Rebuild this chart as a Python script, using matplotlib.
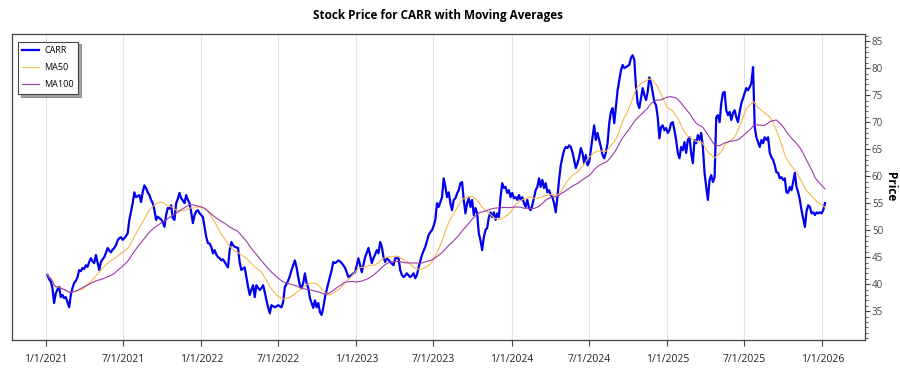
import pandas as pd
import matplotlib.pyplot as plt
from matplotlib.ticker import MultipleLocator

plt.rcParams['font.family'] = ['Open Sans', 'DejaVu Sans']

# CARR closing prices (about every 4 calendar days)
prices = [
    # Jan 2021 - Mar 2022
    41.7, 40.9, 40.5, 39.3, 36.5, 38.3, 39.0, 39.5, 37.6, 38.0,
    37.4, 37.6, 36.7, 35.7, 38.0, 39.3, 40.2, 40.6, 41.3, 42.6,
    42.4, 43.0, 42.8, 43.5, 43.2, 44.1, 44.8, 44.2, 43.9, 45.4,
    44.0, 42.6, 44.1, 44.6, 45.0, 45.8, 46.7, 46.2, 45.9, 46.4,
    46.7, 47.2, 48.1, 48.5, 48.7, 48.2, 48.5, 48.9, 49.4, 51.9,
    53.5, 55.0, 57.0, 56.1, 56.3, 56.5, 55.2, 57.0, 58.3, 57.8,
    57.0, 56.5, 55.6, 55.0, 53.7, 51.9, 52.5, 52.2, 52.0, 51.5,
    50.6, 52.8, 54.1, 54.0, 54.6, 52.2, 51.9, 55.0, 55.8, 56.9,
    55.9, 55.5, 55.0, 56.5, 55.6, 55.0, 53.3, 51.3, 52.8, 53.5,
    53.7, 53.1, 52.8, 52.4, 50.6, 48.7, 47.6, 47.5, 46.9, 45.7,
    46.3, 45.5, 45.0, 44.8, 44.4, 44.6, 44.1, 43.6, 43.1, 46.3,
    47.8, 47.2, 46.9, 46.8, 46.7,
    # Apr 2022 - Jun 2023
    44.0, 42.6, 42.9, 43.1, 41.3, 39.5, 38.0, 39.0, 39.8, 37.6,
    39.8, 39.3, 38.9, 39.3, 39.8, 38.5, 37.0, 35.7, 34.6, 36.1,
    35.9, 35.7, 35.9, 36.1, 35.9, 35.7, 36.7, 39.5, 40.0, 40.7,
    41.5, 42.6, 43.5, 44.4, 43.1, 41.3, 39.8, 39.3, 40.2, 42.0,
    40.2, 39.3, 37.4, 36.5, 35.6, 37.0, 35.7, 36.5, 34.8, 34.3,
    35.7, 37.6, 38.9, 40.2, 41.4, 42.6, 44.1, 43.9, 44.1, 44.4,
    44.2, 43.9, 43.5, 43.0, 42.2, 41.3, 41.5, 41.7, 42.0, 42.2,
    43.5, 44.8, 43.5, 42.2, 43.6, 45.0, 45.8, 46.7, 45.4, 43.9,
    44.8, 45.5, 46.3, 45.7, 47.8, 46.9, 45.0, 44.1, 44.8, 44.5,
    44.1, 43.8, 43.5, 44.8, 44.8, 44.8, 42.6, 41.7, 41.3, 41.6,
    42.0, 41.6, 41.3, 41.6, 42.0, 41.1, 41.7, 43.1, 44.3, 45.4,
    46.2, 46.9, 48.0, 49.1, 49.6, 50.0,
    # Jun 2023 - Sep 2024
    50.8, 51.9, 55.0, 54.3, 55.2, 56.1, 59.6, 58.0, 56.1, 57.0,
    55.0, 53.7, 55.6, 55.9, 56.8, 57.4, 58.7, 58.9, 55.6, 53.1,
    55.0, 55.9, 54.3, 55.6, 52.8, 54.1, 53.1, 49.4, 48.1, 46.3,
    48.7, 50.0, 50.4, 52.4, 53.3, 52.4, 53.3, 51.9, 53.1, 52.4,
    56.1, 58.7, 57.8, 58.0, 56.9, 57.4, 56.1, 56.9, 55.9, 56.1,
    55.6, 56.5, 55.6, 56.1, 55.0, 54.3, 55.6, 54.1, 53.7, 54.6,
    56.0, 57.4, 58.0, 59.6, 58.0, 59.3, 57.8, 58.7, 57.0, 57.4,
    56.5, 56.1, 55.0, 53.3, 56.1, 59.3, 62.0, 63.5, 64.8, 65.4,
    65.2, 65.7, 65.4, 64.4, 63.0, 61.5, 62.4, 63.5, 65.2, 64.3,
    62.4, 63.9, 62.0, 62.6, 64.8, 67.2, 69.4, 66.7, 68.0, 66.7,
    65.4, 63.9, 63.3, 64.4, 66.1, 69.8, 71.9, 72.6, 69.8, 72.8,
    75.9, 77.8, 79.6, 80.6, 80.0, 80.2, 80.4, 80.6,
    # Sep 2024 - Jan 2026
    81.9, 82.4, 81.5, 76.5, 73.5, 72.6, 74.4, 76.3, 75.0, 74.1,
    75.6, 78.3, 77.2, 75.4, 73.7, 73.1, 70.9, 67.0, 69.1, 69.4,
    68.5, 68.9, 68.0, 68.5, 69.8, 70.0, 68.5, 66.7, 64.3, 63.3,
    65.4, 64.8, 66.3, 64.3, 66.7, 67.2, 64.3, 62.4, 66.7, 66.1,
    67.6, 66.7, 68.0, 65.4, 60.6, 58.0, 55.6, 59.3, 60.2, 58.9,
    59.8, 70.9, 71.3, 70.0, 73.5, 75.4, 75.6, 72.2, 71.3, 71.9,
    70.4, 71.7, 72.2, 70.9, 70.0, 71.9, 73.5, 74.4, 75.4, 76.3,
    75.9, 76.5, 77.2, 80.2, 69.1, 67.2, 66.3, 65.4, 66.7, 66.1,
    67.2, 66.7, 67.2, 64.3, 63.5, 63.0, 62.0, 60.7, 60.6, 59.6,
    59.8, 59.3, 59.6, 57.0, 56.9, 58.0, 57.4, 58.9, 60.6, 58.0,
    57.0, 55.6, 53.7, 52.2, 50.6, 53.5, 54.6, 54.3, 53.1, 53.3,
    52.8, 53.3, 53.1, 53.3, 53.1, 53.7, 55.0,
]
first_day = "2021-01-04"
last_day = "2026-01-07"

tick_dates = ["2021-01-01", "2021-07-01", "2022-01-01", "2022-07-01",
              "2023-01-01", "2023-07-01", "2024-01-01", "2024-07-01",
              "2025-01-01", "2025-07-01", "2026-01-01"]
tick_labels = ["1/1/2021", "7/1/2021", "1/1/2022", "7/1/2022", "1/1/2023",
               "7/1/2023", "1/1/2024", "7/1/2024", "1/1/2025", "7/1/2025",
               "1/1/2026"]
y_ticks = [35, 40, 45, 50, 55, 60, 65, 70, 75, 80, 85]

dates = pd.date_range(first_day, last_day, periods=len(prices))
close = pd.Series(prices, index=dates)
# 50 / 100 trading days as calendar windows
ma50 = close.rolling("72D").mean()
ma100 = close.rolling("145D").mean()

fig = plt.figure(figsize=(9, 3.75), dpi=100)
ax = fig.add_axes([0.013, 0.094, 0.948, 0.815])

ax.plot(close.index, close.values, color="#0000ee", lw=1.6, label="CARR", zorder=3)
ax.plot(ma50.index, ma50.values, color="#f7b84f", lw=0.8, label="MA50", zorder=4)
ax.plot(ma100.index, ma100.values, color="#9b3aa8", lw=0.8, label="MA100", zorder=4)

ax.set_xlim(pd.Timestamp("2020-10-12"), pd.Timestamp("2026-04-11"))
ax.set_ylim(29.7, 86.3)

ax.set_xticks(pd.to_datetime(tick_dates))
ax.set_xticklabels(tick_labels, fontsize=7.5, color="#222222")
ax.tick_params(axis="x", length=4, width=0.8, color="#444444", pad=6)
ax.grid(axis="x", color="#e3e3e3", lw=0.8)
ax.set_axisbelow(True)

ax.yaxis.tick_right()
ax.set_yticks(y_ticks)
ax.yaxis.set_minor_locator(MultipleLocator(1))
ax.tick_params(axis="y", which="major", length=3.5, width=0.8, color="#444444",
               labelsize=7, labelcolor="#444444", pad=1.5)
ax.tick_params(axis="y", which="minor", length=2, width=0.6, color="#444444")

# "Price" sits to the right of the tick labels
ax.text(1.03, 0.5, "Price", transform=ax.transAxes, rotation=-90,
        ha="center", va="center", fontsize=8.5, fontweight="bold")

for sp in ax.spines.values():
    sp.set_color("#444444")
    sp.set_linewidth(0.9)

ax.set_title("Stock Price for CARR with Moving Averages", fontsize=8.5,
             fontweight="bold", pad=11)

leg = ax.legend(loc="upper left", fontsize=6.5, frameon=True, fancybox=False,
                shadow=True, handlelength=1.8, handletextpad=0.6, borderpad=0.5,
                labelspacing=0.9, bbox_to_anchor=(0.002, 0.99))
leg.get_frame().set_edgecolor("#444444")
leg.get_frame().set_linewidth(0.8)

fig.savefig("out.png", dpi=100)
